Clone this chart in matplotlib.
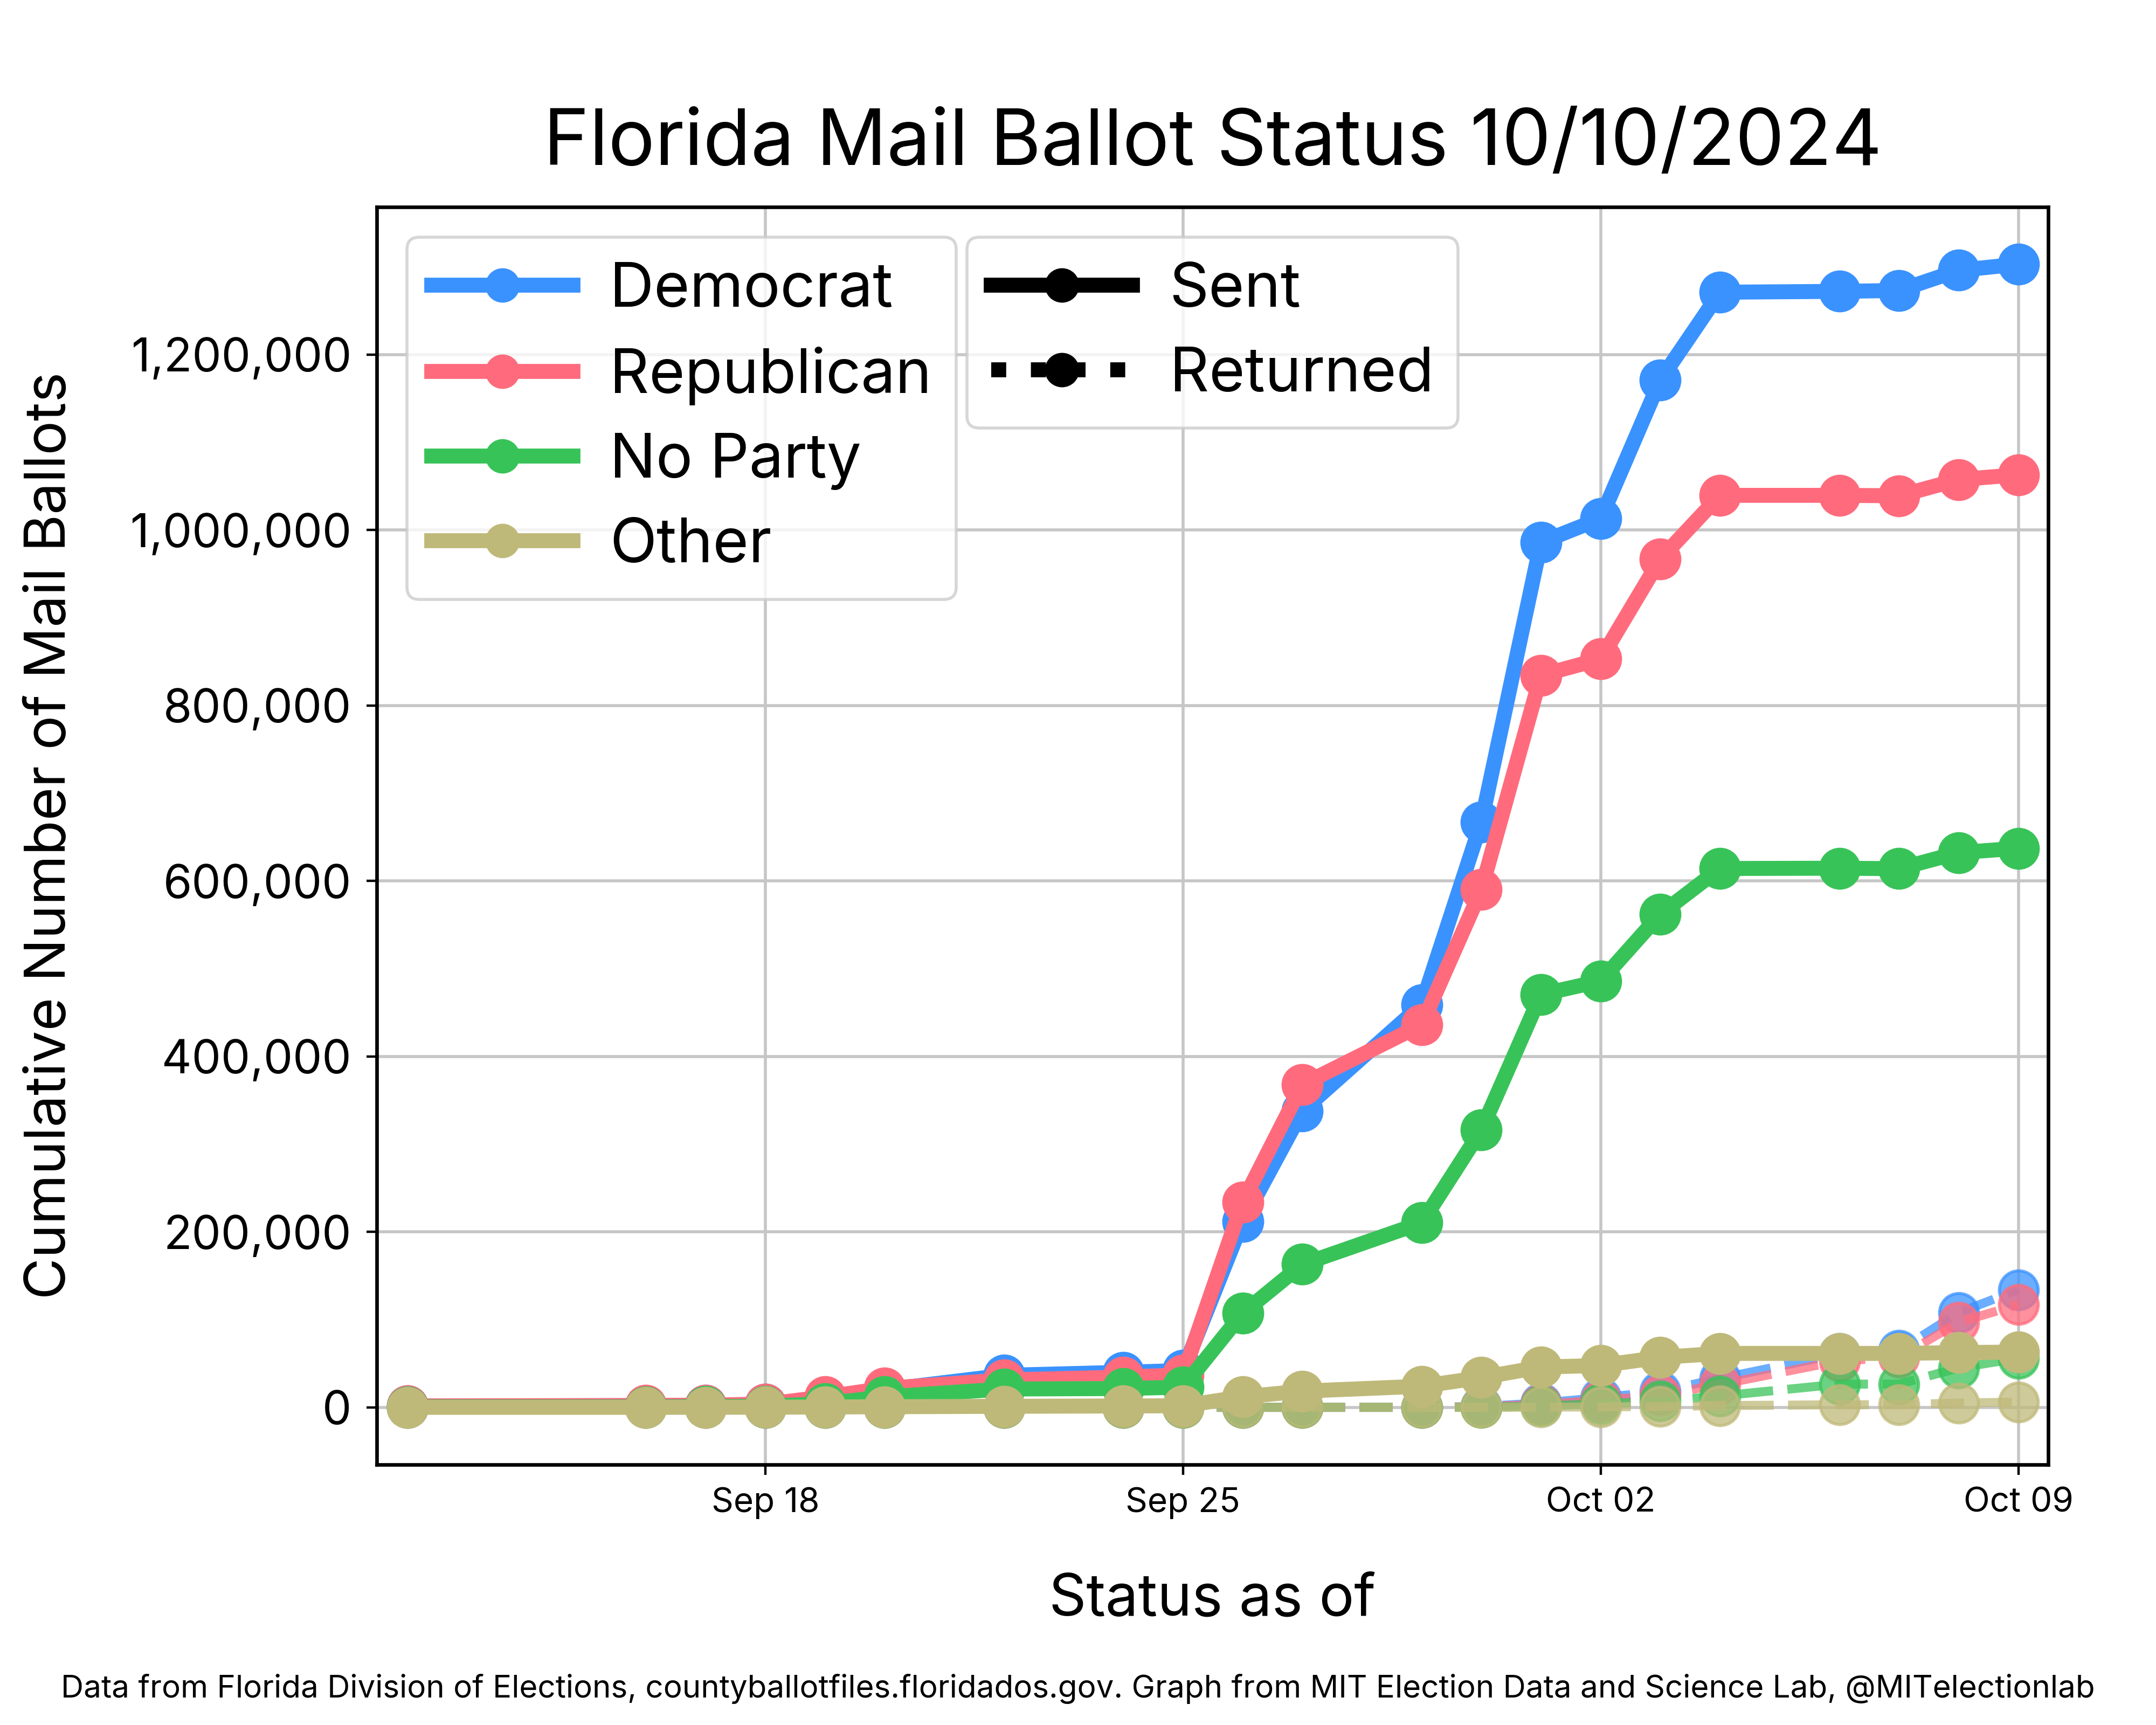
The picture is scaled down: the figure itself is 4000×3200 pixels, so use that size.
import pandas as pd
import matplotlib
matplotlib.use('Agg')
import matplotlib.pyplot as plt
import matplotlib.dates as mdates
import matplotlib.ticker as mticker
from matplotlib.lines import Line2D

plt.rcParams['font.family'] = ['Inter', 'DejaVu Sans']

# Report dates
dates = pd.to_datetime([
    '2024-09-12', '2024-09-16', '2024-09-17', '2024-09-18', '2024-09-19',
    '2024-09-20', '2024-09-22', '2024-09-24', '2024-09-25', '2024-09-26',
    '2024-09-27', '2024-09-29', '2024-09-30', '2024-10-01', '2024-10-02',
    '2024-10-03', '2024-10-04', '2024-10-06', '2024-10-07', '2024-10-08',
    '2024-10-09'])

# Cumulative mail ballots sent
dem_sent = [1500, 2000, 2500, 3500, 10000, 20000, 36500, 40000, 42000, 212000,
            338000, 459000, 667000, 986000, 1013000, 1171000, 1271000, 1272000,
            1273000, 1296000, 1303000]
rep_sent = [1600, 2100, 2500, 3700, 11900, 21700, 31200, 34500, 37000, 234000,
            368000, 436000, 590000, 834500, 853000, 967000, 1039500, 1039500,
            1039000, 1057500, 1063000]
npa_sent = [500, 500, 800, 1200, 4300, 11900, 20900, 21500, 23000, 107400,
            163000, 210400, 316200, 470700, 486000, 562200, 614200, 614500,
            614000, 632300, 637300]
oth_sent = [0, 0, 100, 200, 400, 700, 1200, 1600, 1800, 12000, 18500, 24100,
            34000, 46000, 47700, 57000, 61500, 61500, 61500, 62500, 63000]

# Cumulative mail ballots returned
dem_ret = [0, 0, 0, 0, 0, 0, 0, 0, 0, 0, 0, 0, 1000, 5000, 11000, 18000, 33000,
           61000, 65000, 108000, 134000]
rep_ret = [0, 0, 0, 0, 0, 0, 0, 0, 0, 0, 0, 0, 700, 3500, 8000, 14000, 26000,
           53000, 57000, 97000, 117000]
npa_ret = [0, 0, 0, 0, 0, 0, 0, 0, 0, 0, 0, 0, 0, 1500, 4000, 7000, 13000,
           26500, 26500, 45000, 56000]
oth_ret = [0, 0, 0, 0, 0, 0, 0, 0, 0, 0, 0, 0, 0, 200, 500, 1000, 2000, 3000,
           3000, 5000, 6000]

parties = ['Democrat', 'Republican', 'No Party', 'Other']
colors = ['#3a92ff', '#ff6b7d', '#38c358', '#bfb979']
sent = [dem_sent, rep_sent, npa_sent, oth_sent]
returned = [dem_ret, rep_ret, npa_ret, oth_ret]

fig = plt.figure(figsize=(10, 8), dpi=400)
ax = fig.add_axes([0.1748, 0.151, 0.7752, 0.729])

# Returned ballots (dashed, drawn underneath)
for vals, c in zip(returned, colors):
    ax.plot(dates, vals, color=c, linestyle='--', linewidth=3, marker='o',
            markersize=13, alpha=0.75, zorder=2)

# Sent ballots (solid)
for vals, c in zip(sent, colors):
    ax.plot(dates, vals, color=c, linestyle='-', linewidth=5, marker='o',
            markersize=13, zorder=3)

ax.set_xlim(dates[0] - pd.Timedelta(days=0.51), dates[-1] + pd.Timedelta(days=0.5))
ax.margins(y=0.05)

ax.xaxis.set_major_locator(mdates.WeekdayLocator(byweekday=mdates.WE))
ax.xaxis.set_major_formatter(mdates.DateFormatter('%b %d'))
ax.yaxis.set_major_formatter(mticker.FuncFormatter(lambda v, p: f'{int(v):,}'))
ax.tick_params(axis='x', labelsize=11.5, pad=4)
ax.tick_params(axis='y', labelsize=15.5, pad=5)
ax.grid(True, color='#c6c6c6', linewidth=1)
ax.set_axisbelow(True)
for s in ax.spines.values():
    s.set_linewidth(1.2)

ax.set_title('Florida Mail Ballot Status 10/10/2024', fontsize=26, pad=14)
ax.set_xlabel('Status as of', fontsize=19.5, labelpad=18)
ax.set_ylabel('Cumulative Number of Mail Ballots', fontsize=19, labelpad=18)

# Legends
party_handles = [Line2D([0], [0], color=c, linewidth=5, marker='o', markersize=10.5)
                 for c in colors]
leg1 = ax.legend(party_handles, parties, loc='upper left', bbox_to_anchor=(0.018, 0.976),
                 borderaxespad=0, fontsize=20.5, handlelength=2.3, handletextpad=0.6,
                 labelspacing=0.45)
ax.add_artist(leg1)
status_handles = [Line2D([0], [0], color='black', linewidth=5, marker='o', markersize=10.5),
                  Line2D([0], [0], color='black', linewidth=5, linestyle=':', marker='o',
                         markersize=10.5)]
ax.legend(status_handles, ['Sent', 'Returned'], loc='upper left',
          bbox_to_anchor=(0.353, 0.976), borderaxespad=0, fontsize=20.5,
          handlelength=2.3, handletextpad=0.6, labelspacing=0.45)

fig.text(0.5, 0.021, 'Data from Florida Division of Elections, countyballotfiles.floridados.gov. '
         'Graph from MIT Election Data and Science Lab, @MITelectionlab',
         ha='center', va='center', fontsize=10.5)

fig.savefig('out.png', dpi=400)
